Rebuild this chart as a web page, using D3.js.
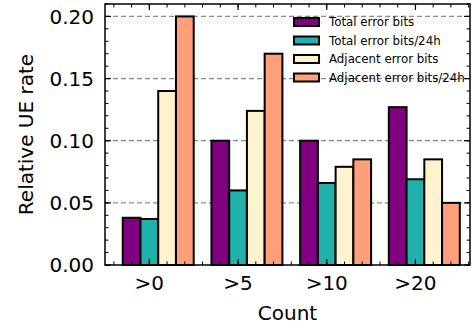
<!DOCTYPE html>
<html>
<head>
<meta charset="utf-8">
<script src="https://cdn.jsdelivr.net/npm/d3@7"></script>
<style>
  body { margin: 0; background: #fff; }
  text { font-family: "DejaVu Sans", sans-serif; }
</style>
</head>
<body>
<svg width="475" height="328"></svg>
<script>
// Data
var categories = [">0", ">5", ">10", ">20"];
var seriesNames = ["Total error bits", "Total error bits/24h", "Adjacent error bits", "Adjacent error bits/24h"];
var totalBits = [0.038, 0.100, 0.100, 0.127];
var totalBits24h = [0.037, 0.060, 0.066, 0.069];
var adjacentBits = [0.140, 0.124, 0.079, 0.085];
var adjacentBits24h = [0.200, 0.170, 0.085, 0.050];
var yTicks = [0.00, 0.05, 0.10, 0.15, 0.20];

var series = [totalBits, totalBits24h, adjacentBits, adjacentBits24h];
var colors = ["#800080", "#20b2aa", "#fff2cf", "#ffa07a"];

// Layout
var pLeft = 105, pRight = 470, pTop = 4, pBottom = 265;
var barW = 0.2;

var svg = d3.select("svg");

var x = d3.scaleLinear().domain([-0.5, 3.615]).range([pLeft, pRight]);
var y = d3.scaleLinear().domain([0, 0.21]).range([pBottom, pTop]);

// grid lines
svg.append("g")
  .selectAll("line")
  .data(yTicks.slice(1))
  .enter().append("line")
  .attr("x1", pLeft).attr("x2", pRight)
  .attr("y1", d => y(d)).attr("y2", d => y(d))
  .attr("stroke", "#8c8c8c")
  .attr("stroke-width", 1.2)
  .attr("stroke-dasharray", "5,3");

// bars
series.forEach(function(vals, s) {
  svg.append("g")
    .selectAll("rect")
    .data(vals)
    .enter().append("rect")
    .attr("x", (d, i) => x(i + (s - 1) * barW - barW / 2))
    .attr("width", x(barW) - x(0))
    .attr("y", d => y(d))
    .attr("height", d => y(0) - y(d))
    .attr("fill", colors[s])
    .attr("stroke", "#000")
    .attr("stroke-width", 2);
});

// axes frame with inward ticks
function ticksY(g, side) {
  var major = d3.range(0, 0.2001, 0.05);
  var minor = d3.range(0, 0.2101, 0.01);
  var x0 = side === "left" ? pLeft : pRight;
  var dir = side === "left" ? 1 : -1;
  minor.forEach(function(v) {
    g.append("line").attr("x1", x0).attr("x2", x0 + dir * 3.5)
      .attr("y1", y(v)).attr("y2", y(v)).attr("stroke", "#000").attr("stroke-width", 1);
  });
  major.forEach(function(v) {
    g.append("line").attr("x1", x0).attr("x2", x0 + dir * 6)
      .attr("y1", y(v)).attr("y2", y(v)).attr("stroke", "#000").attr("stroke-width", 1.2);
  });
}
function ticksX(g, side) {
  var y0 = side === "bottom" ? pBottom : pTop;
  var dir = side === "bottom" ? -1 : 1;
  var minor = d3.range(-0.4, 3.61, 0.2);
  minor.forEach(function(v) {
    g.append("line").attr("x1", x(v)).attr("x2", x(v))
      .attr("y1", y0).attr("y2", y0 + dir * 3.5).attr("stroke", "#000").attr("stroke-width", 1);
  });
  categories.forEach(function(c, i) {
    g.append("line").attr("x1", x(i)).attr("x2", x(i))
      .attr("y1", y0).attr("y2", y0 + dir * 6).attr("stroke", "#000").attr("stroke-width", 1.2);
  });
}
var axG = svg.append("g");
ticksY(axG, "left");
ticksY(axG, "right");
ticksX(axG, "bottom");
ticksX(axG, "top");

svg.append("rect")
  .attr("x", pLeft).attr("y", pTop)
  .attr("width", pRight - pLeft).attr("height", pBottom - pTop)
  .attr("fill", "none").attr("stroke", "#000").attr("stroke-width", 1.5);

// tick labels
svg.append("g").selectAll("text")
  .data(yTicks)
  .enter().append("text")
  .attr("x", pLeft - 11)
  .attr("y", d => y(d))
  .attr("dy", "0.36em")
  .attr("text-anchor", "end")
  .attr("font-size", 20)
  .text(d => d3.format(".2f")(d));

svg.append("g").selectAll("text")
  .data(categories)
  .enter().append("text")
  .attr("x", (d, i) => x(i))
  .attr("y", 290)
  .attr("text-anchor", "middle")
  .attr("font-size", 20)
  .text(d => d);

// axis labels
svg.append("text")
  .attr("x", (pLeft + pRight) / 2)
  .attr("y", 320)
  .attr("text-anchor", "middle")
  .attr("font-size", 20)
  .text("Count");

svg.append("text")
  .attr("transform", "translate(33," + (pTop + pBottom) / 2 + ") rotate(-90)")
  .attr("text-anchor", "middle")
  .attr("font-size", 20)
  .text("Relative UE rate");

// legend (no frame)
var legend = svg.append("g");
seriesNames.forEach(function(name, i) {
  var ly = 22 + i * 18.5;
  legend.append("rect")
    .attr("x", 294).attr("y", ly - 4)
    .attr("width", 25).attr("height", 8)
    .attr("fill", colors[i]).attr("stroke", "#000").attr("stroke-width", 2);
  legend.append("text")
    .attr("x", 329).attr("y", ly)
    .attr("dy", "0.36em")
    .attr("font-size", 11.8)
    .text(name);
});
</script>
</body>
</html>
